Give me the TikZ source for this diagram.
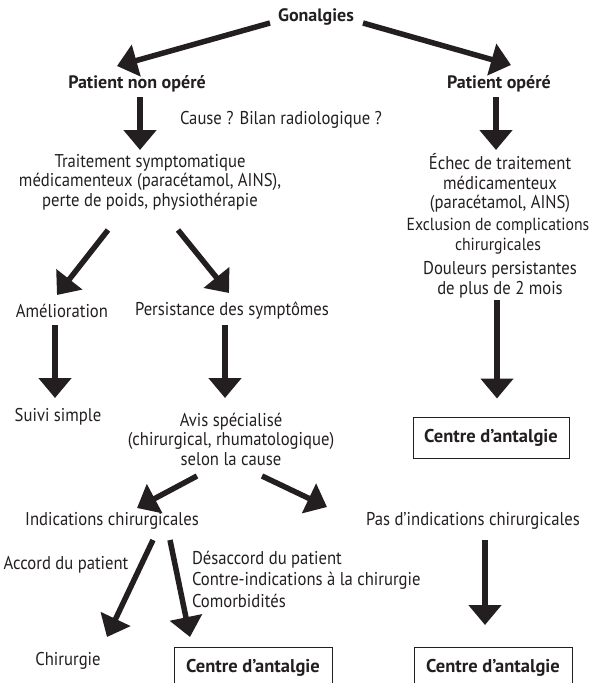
\documentclass[tikz,border=0pt]{standalone}
\usepackage{fontspec}
\setmainfont{PT Sans}[FakeStretch=0.9]
\newfontfamily\bfam{PT Sans}
\usetikzlibrary{arrows.meta,calc}
\definecolor{ink}{HTML}{231F20}
\begin{document}
\begin{tikzpicture}[x=1pt,y=-1pt,
  every node/.style={inner sep=0pt,outer sep=0pt,text=ink,font=\fontsize{18.5}{19.5}\selectfont,align=center},
  bold/.style={font=\bfam\fontsize{18}{19.5}\selectfont\bfseries},
  boxed/.style={draw=ink,line width=0.9pt,minimum width=156pt,minimum height=41pt,font=\bfam\fontsize{18.5}{19.5}\selectfont\bfseries},
  bigarrow/.style={draw=ink,line width=5.5pt,-{Triangle[width=32pt,length=20pt]}},
]
\useasboundingbox (0,0) rectangle (595,683);
\clip (0,0) rectangle (595,683);
% nodes
\node[bold] (gon) at (316,17) {Gonalgies};
\node[bold] (pno) at (137,84) {Patient non opéré};
\node[bold] (po) at (499,84) {Patient opéré};
\node[anchor=west] (cause) at (180,120) {Cause ? Bilan radiologique ?};
\node (trait) at (150,182) {Traitement symptomatique\\médicamenteux (paracétamol, AINS),\\perte de poids, physiothérapie};
\node (echec) at (500,183) {Échec de traitement\\médicamenteux\\(paracétamol, AINS)};
\node[font=\fontsize{17.5}{19.5}\selectfont] (excl) at (498,236) {Exclusion de complications\\chirurgicales};
\node (doul) at (500,280) {Douleurs persistantes\\de plus de 2 mois};
\node (amel) at (62,311) {Amélioration};
\node (pers) at (232,311) {Persistance des symptômes};
\node (suivi) at (58,417) {Suivi simple};
\node (avis) at (231,439) {Avis spécialisé\\(chirurgical, rhumatologique)\\selon la cause};
\node[boxed] (c1) at (491,437.5) {Centre d’antalgie};
\node (indic) at (112,521) {Indications chirurgicales};
\node (pas) at (473,521) {Pas d’indications chirurgicales};
\node (accord) at (66,565) {Accord du patient};
\node[anchor=west,align=left,font=\fontsize{18.5}{21.5}\selectfont] (desacc) at (192,579) {Désaccord du patient\\Contre-indications à la chirurgie\\Comorbidités};
\node (chir) at (68,661) {Chirurgie};
\node[boxed,minimum width=158pt,minimum height=52pt,text depth=14pt] (c2) at (253,673) {Centre d’antalgie};
\node[boxed,minimum width=158pt,minimum height=52pt,text depth=14pt] (c3) at (493,673) {Centre d’antalgie};
% arrows
\draw[bigarrow] ($(gon.center)+(-46,6)$) -- ($(pno.center)+(-20,-18)$);
\draw[bigarrow] ($(gon.center)+(47,6)$) -- ($(po.center)+(12,-19)$);
\draw[bigarrow] ($(pno.center)+(3,13)$) -- ($(pno.center)+(3,66)$);
\draw[bigarrow] ($(po.center)+(-3,13)$) -- ($(po.center)+(-3,66)$);
\draw[bigarrow] ($(trait.center)+(-42,48)$) -- ($(amel.center)+(-5,-16)$);
\draw[bigarrow] ($(trait.center)+(28,48)$) -- ($(pers.center)+(-3,-18)$);
\draw[bigarrow] ($(amel.center)+(-7,14)$) -- ($(suivi.center)+(-3,-19)$);
\draw[bigarrow] ($(pers.center)+(-7,14)$) -- ($(avis.center)+(-6,-41)$);
\draw[bigarrow] ($(doul.center)+(-3,20)$) -- ($(c1.center)+(6,-39)$);
\draw[bigarrow] ($(avis.center)+(-34,37)$) -- ($(indic.center)+(25,-13)$);
\draw[bigarrow] ($(avis.center)+(31,37)$) -- ($(pas.center)+(-146,-14)$);
\draw[bigarrow] ($(indic.center)+(41,19)$) -- ($(chir.center)+(39,-24)$);
\draw[bigarrow] ($(indic.center)+(58,19)$) -- ($(c2.center)+(-63,-36)$);
\draw[bigarrow] ($(pas.center)+(12,19)$) -- ($(c3.center)+(-8,-48)$);
\end{tikzpicture}
\end{document}
